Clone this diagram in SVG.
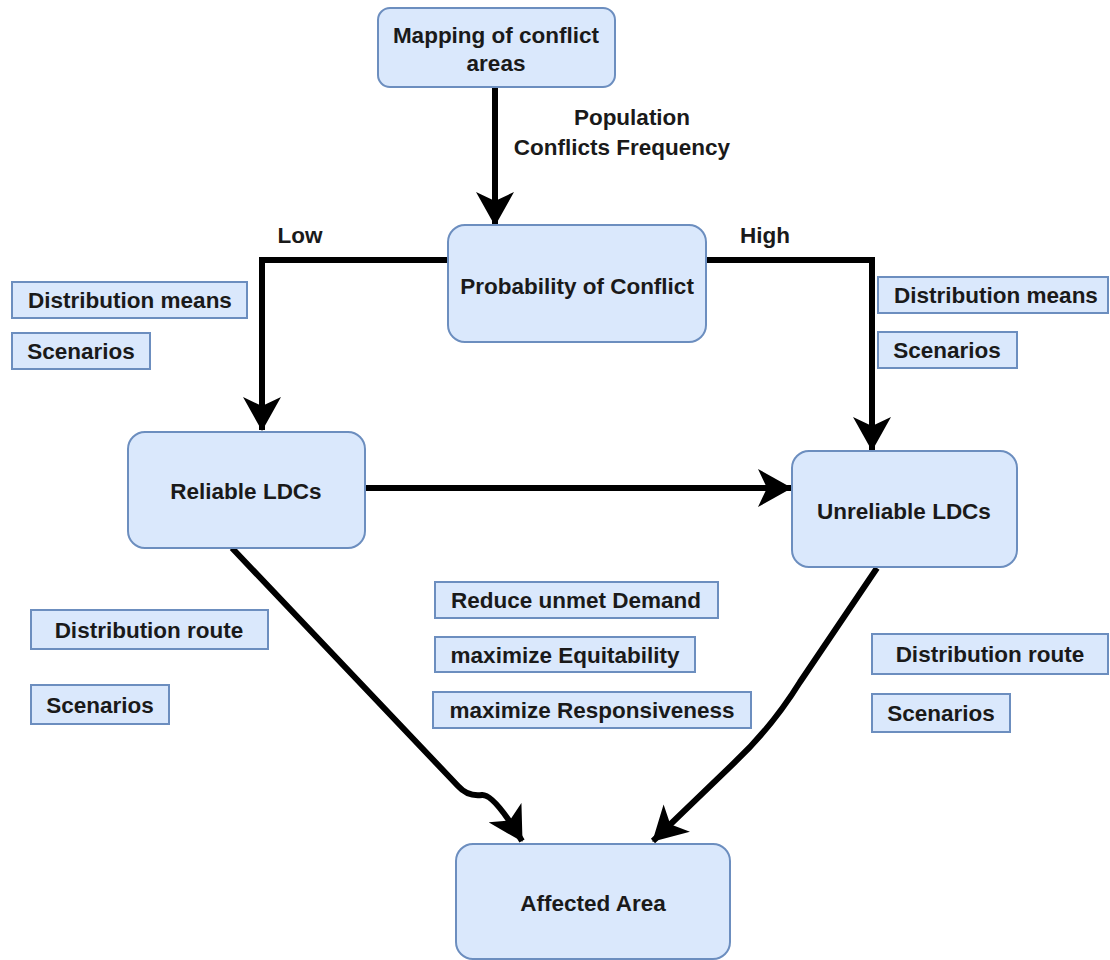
<svg xmlns="http://www.w3.org/2000/svg" width="1110" height="960" viewBox="0 0 1110 960">
<style>
.node{fill:#dae8fc;stroke:#6c8ebf;stroke-width:2}
.tag{fill:#dae8fc;stroke:#6c8ebf;stroke-width:2}
text{font-family:"Liberation Sans",Arial,sans-serif;font-weight:bold;font-size:22.5px;fill:#1a1a1a;text-anchor:middle}
.edge{fill:none;stroke:#000;stroke-width:6}
</style>
<defs>
<marker id="arr" markerUnits="userSpaceOnUse" markerWidth="34" markerHeight="38" viewBox="0 0 34 38" refX="33" refY="19" orient="auto">
<path d="M0,0 L34,19 L0,38 L9,19 Z" fill="#000"/>
</marker>
</defs>
<rect width="1110" height="960" fill="#fff"/>
<g id="connectors">
<path class="edge" d="M495,87 L495,225" marker-end="url(#arr)"/>
<path class="edge" d="M448,260 L262,260 L262,430" marker-end="url(#arr)"/>
<path class="edge" d="M706,260 L872,260 L872,450" marker-end="url(#arr)"/>
<path class="edge" d="M365,488 L791,488" marker-end="url(#arr)"/>
<path class="edge" d="M232,548 L458,786 Q468,797 482,795 Q494,794 522,841" marker-end="url(#arr)"/>
<path class="edge" d="M877,568 L800,682 Q772,727 735,762 L653,841" marker-end="url(#arr)"/>
</g>
<g id="edge-labels">
<text x="632" y="125">Population</text>
<text x="622" y="155">Conflicts Frequency</text>
<text x="300" y="243">Low</text>
<text x="765" y="243">High</text>
</g>
<g id="mapping">
<rect class="node" x="378" y="8" width="237" height="79" rx="12"/>
<text x="496" y="43">Mapping of conflict</text>
<text x="496" y="71">areas</text>
</g>
<g id="probability">
<rect class="node" x="448" y="225" width="258" height="117" rx="17"/>
<text x="577" y="294">Probability of Conflict</text>
</g>
<g id="reliable">
<rect class="node" x="128" y="432" width="237" height="116" rx="17"/>
<text x="246" y="499">Reliable LDCs</text>
</g>
<g id="unreliable">
<rect class="node" x="792" y="451" width="225" height="116" rx="17"/>
<text x="904" y="519">Unreliable LDCs</text>
</g>
<g id="affected">
<rect class="node" x="456" y="844" width="274" height="115" rx="17"/>
<text x="593" y="911">Affected Area</text>
</g>
<g id="tag-dm-left">
<rect class="tag" x="12" y="282" width="235" height="36"/>
<text x="130" y="308">Distribution means</text>
</g>
<g id="tag-sc-left">
<rect class="tag" x="12" y="333" width="138" height="36"/>
<text x="81" y="359">Scenarios</text>
</g>
<g id="tag-dm-right">
<rect class="tag" x="878" y="277" width="230" height="36"/>
<text x="996" y="303">Distribution means</text>
</g>
<g id="tag-sc-right">
<rect class="tag" x="878" y="332" width="139" height="36"/>
<text x="947" y="358">Scenarios</text>
</g>
<g id="tag-demand">
<rect class="tag" x="435" y="582" width="283" height="36"/>
<text x="576" y="608">Reduce unmet Demand</text>
</g>
<g id="tag-equit">
<rect class="tag" x="435" y="637" width="260" height="35"/>
<text x="565" y="663">maximize Equitability</text>
</g>
<g id="tag-resp">
<rect class="tag" x="433" y="692" width="318" height="36"/>
<text x="592" y="718">maximize Responsiveness</text>
</g>
<g id="tag-dr-left">
<rect class="tag" x="31" y="610" width="237" height="39"/>
<text x="149" y="638">Distribution route</text>
</g>
<g id="tag-sc-left2">
<rect class="tag" x="31" y="685" width="138" height="39"/>
<text x="100" y="713">Scenarios</text>
</g>
<g id="tag-dr-right">
<rect class="tag" x="872" y="634" width="236" height="40"/>
<text x="990" y="662">Distribution route</text>
</g>
<g id="tag-sc-right2">
<rect class="tag" x="872" y="694" width="138" height="38"/>
<text x="941" y="721">Scenarios</text>
</g>
</svg>
